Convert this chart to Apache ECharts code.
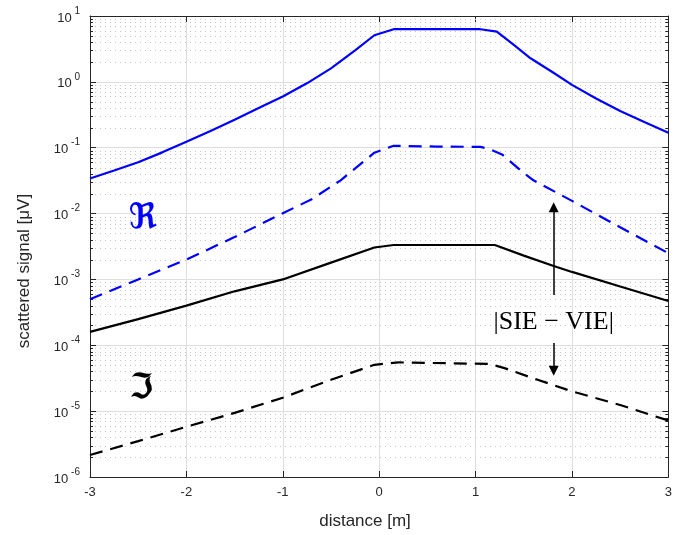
<!DOCTYPE html>
<html>
<head>
<meta charset="utf-8">
<script src="https://cdn.jsdelivr.net/npm/echarts@6/dist/echarts.min.js"></script>
<style>
  html, body { margin: 0; padding: 0; background: #ffffff; }
  #chart { width: 675px; height: 535px; }
</style>
</head>
<body>
<div id="chart"></div>
<script>
// Scattered signal along the profile, real (blue) and imaginary (black) parts.
// Solid: signal; dashed: |SIE - VIE| difference.
const realX      = [-3, -2.75, -2.5, -2.25, -2, -1.75, -1.5, -1.25, -1, -0.75, -0.5, -0.25, -0.05, 0.15, 1.05, 1.22, 1.4, 1.57, 1.8, 2, 2.25, 2.5, 2.75, 3];
const realY      = [0.034, 0.045, 0.06, 0.085, 0.123, 0.18, 0.265, 0.4, 0.6, 0.95, 1.6, 3.0, 5.1, 6.3, 6.3, 5.8, 3.6, 2.28, 1.4, 0.9, 0.56, 0.36, 0.245, 0.169];

const realDiffX  = [-3, -2.5, -2, -1.5, -1, -0.7, -0.4, -0.05, 0.15, 0.6, 1.05, 1.15, 1.28, 1.47, 1.6, 2, 2.5, 3];
const realDiffY  = [5.0e-4, 1.0e-3, 2.0e-3, 4.4e-3, 0.0101, 0.0165, 0.032, 0.084, 0.107, 0.104, 0.103, 0.095, 0.078, 0.045, 0.032, 0.0156, 0.0062, 0.0025];

const imagX      = [-3, -2.5, -2, -1.5, -1, -0.5, -0.05, 0.15, 1.2, 1.5, 1.81, 2, 2.5, 3];
const imagY      = [1.6e-4, 2.5e-4, 4.0e-4, 6.6e-4, 1.0e-3, 1.8e-3, 3.05e-3, 3.33e-3, 3.33e-3, 2.3e-3, 1.6e-3, 1.3e-3, 7.8e-4, 4.7e-4];

const imagDiffX  = [-3, -2.5, -2, -1.5, -1, -0.5, -0.05, 0.2, 1.15, 1.3, 1.6, 2, 2.5, 3];
const imagDiffY  = [2.16e-6, 3.5e-6, 5.8e-6, 9.4e-6, 1.6e-5, 3.0e-5, 5.05e-5, 5.5e-5, 5.2e-5, 4.5e-5, 3.15e-5, 2.0e-5, 1.24e-5, 7.2e-6];

// Axis ranges and ticks
const xMin = -3, xMax = 3;
const yMin = 1e-6, yMax = 10;
const decadeExponents = [-6, -5, -4, -3, -2, -1, 0];
const minorMultipliers = [2, 3, 4, 5, 6, 7, 8, 9];

// Annotation anchors (data coordinates)
const realSymbolAt  = [-2.45, 8.3e-3];
const imagSymbolAt  = [-2.47, 2.2e-5];
const diffLabelAt   = [1.81, 2.26e-4];
const upArrow       = [[1.81, 5.8e-4], [1.81, 0.0125]];
const downArrow     = [[1.81, 1.08e-4], [1.81, 4.1e-5]];

const AXIS = '#262626';
const SANS = '"Liberation Sans", Arial, Helvetica, sans-serif';
const FRAK = '"DejaVu Serif", "DejaVu Sans", serif';

function pairs(xs, ys) { return xs.map((x, i) => [x, ys[i]]); }

const minorValues = [];
decadeExponents.forEach(e => {
  minorMultipliers.forEach(m => minorValues.push([xMin, m * Math.pow(10, e)]));
});

const chart = echarts.init(document.getElementById('chart'), null, { renderer: 'canvas' });

const lineBase = { type: 'line', showSymbol: false, symbol: 'none', smooth: false, z: 3, silent: true };
const DASH = [13, 8];

const option = {
  animation: false,
  grid: { left: 90, right: 3, top: 16, bottom: 58, containLabel: false },
  xAxis: [
    {
      type: 'value', min: xMin, max: xMax, interval: 1, position: 'bottom',
      axisLine: { show: true, onZero: false, lineStyle: { color: AXIS, width: 1 } },
      axisTick: { show: true, inside: true, length: 6, lineStyle: { color: AXIS, width: 1 } },
      axisLabel: { color: AXIS, fontSize: 13, fontFamily: SANS, margin: 9 },
      splitLine: { show: true, lineStyle: { color: '#dedede', width: 1 } }
    },
    {
      type: 'value', min: xMin, max: xMax, interval: 1, position: 'top',
      axisLine: { show: true, onZero: false, lineStyle: { color: AXIS, width: 1 } },
      axisTick: { show: true, inside: true, length: 6, lineStyle: { color: AXIS, width: 1 } },
      axisLabel: { show: false },
      splitLine: { show: false }
    }
  ],
  yAxis: [
    {
      type: 'log', logBase: 10, min: yMin, max: yMax, interval: 1, splitNumber: 7, position: 'left',
      axisLine: { show: true, onZero: false, lineStyle: { color: AXIS, width: 1 } },
      axisTick: { show: true, inside: true, length: 6, lineStyle: { color: AXIS, width: 1 } },
      axisLabel: {
        margin: 10,
        formatter: v => '{b|10}{s| ' + Math.round(Math.log10(v)) + '}',
        rich: {
          b: { fontSize: 13, color: AXIS, fontFamily: SANS, padding: [4, 0, 0, 0] },
          s: { fontSize: 10, color: AXIS, fontFamily: SANS, padding: [0, 0, 10, 0] }
        }
      },
      splitLine: { show: true, lineStyle: { color: '#dedede', width: 1 } }
    },
    {
      type: 'log', logBase: 10, min: yMin, max: yMax, interval: 1, splitNumber: 7, position: 'right',
      axisLine: { show: true, onZero: false, lineStyle: { color: AXIS, width: 1 } },
      axisTick: { show: true, inside: true, length: 6, lineStyle: { color: AXIS, width: 1 } },
      axisLabel: { show: false },
      splitLine: { show: false }
    }
  ],
  graphic: [
    {
      type: 'text', x: 24, y: 271, rotation: Math.PI / 2,
      style: { text: 'scattered signal [\u03bcV]', fill: AXIS, font: '17px ' + SANS, textAlign: 'center', textVerticalAlign: 'middle' }
    },
    {
      type: 'text', x: 365, y: 521,
      style: { text: 'distance [m]', fill: AXIS, font: '17px ' + SANS, textAlign: 'center', textVerticalAlign: 'middle' }
    }
  ],
  series: [
    {
      // dotted minor grid at 2..9 x 10^n, with short inside ticks on both vertical axes
      type: 'custom', z: 1, silent: true,
      data: minorValues,
      encode: { x: 0, y: 1 },
      renderItem: (params, api) => {
        const v = api.value(1);
        const p0 = api.coord([xMin, v]);
        const p1 = api.coord([xMax, v]);
        const y = Math.round(p0[1]) + 0.5;
        return {
          type: 'group',
          children: [
            { type: 'line', shape: { x1: p0[0], y1: y, x2: p1[0], y2: y },
              style: { stroke: '#c4c4c4', lineWidth: 1, lineDash: [1, 4] } },
            { type: 'line', shape: { x1: p0[0], y1: y, x2: p0[0] + 3, y2: y },
              style: { stroke: AXIS, lineWidth: 1 } },
            { type: 'line', shape: { x1: p1[0] - 3, y1: y, x2: p1[0], y2: y },
              style: { stroke: AXIS, lineWidth: 1 } }
          ]
        };
      }
    },
    Object.assign({}, lineBase, {
      name: 'real signal', data: pairs(realX, realY),
      lineStyle: { color: '#0000ff', width: 2.2, type: 'solid' }
    }),
    Object.assign({}, lineBase, {
      name: 'real difference', data: pairs(realDiffX, realDiffY),
      lineStyle: { color: '#0000ff', width: 2.2, type: DASH }
    }),
    Object.assign({}, lineBase, {
      name: 'imag signal', data: pairs(imagX, imagY),
      lineStyle: { color: '#000000', width: 2.2, type: 'solid' }
    }),
    Object.assign({}, lineBase, {
      name: 'imag difference', data: pairs(imagDiffX, imagDiffY),
      lineStyle: { color: '#000000', width: 2.2, type: DASH }
    }),
    {
      // annotations: part symbols, difference label and arrows
      type: 'line', data: [], silent: true, z: 5,
      markPoint: {
        symbol: 'circle', symbolSize: 0, silent: true,
        data: [
          { coord: realSymbolAt, label: { show: true, position: 'inside', formatter: '\u211C',
              color: '#0000ff', fontSize: 35, fontWeight: 'bold', fontFamily: FRAK } },
          { coord: imagSymbolAt, label: { show: true, position: 'inside', formatter: '\u2111',
              color: '#000000', fontSize: 35, fontWeight: 'bold', fontFamily: FRAK } },
          { coord: diffLabelAt, label: { show: true, position: 'inside', formatter: '|SIE \u2212 VIE|',
              color: '#000000', fontSize: 26, fontFamily: '"Liberation Serif", "DejaVu Serif", serif' } }
        ]
      },
      markLine: {
        silent: true, symbol: ['none', 'triangle'], symbolSize: 10,
        label: { show: false },
        lineStyle: { color: '#000000', width: 1.5, type: 'solid' },
        data: [
          [{ coord: upArrow[0] }, { coord: upArrow[1] }],
          [{ coord: downArrow[0] }, { coord: downArrow[1] }]
        ]
      }
    }
  ]
};

chart.setOption(option);
</script>
</body>
</html>
